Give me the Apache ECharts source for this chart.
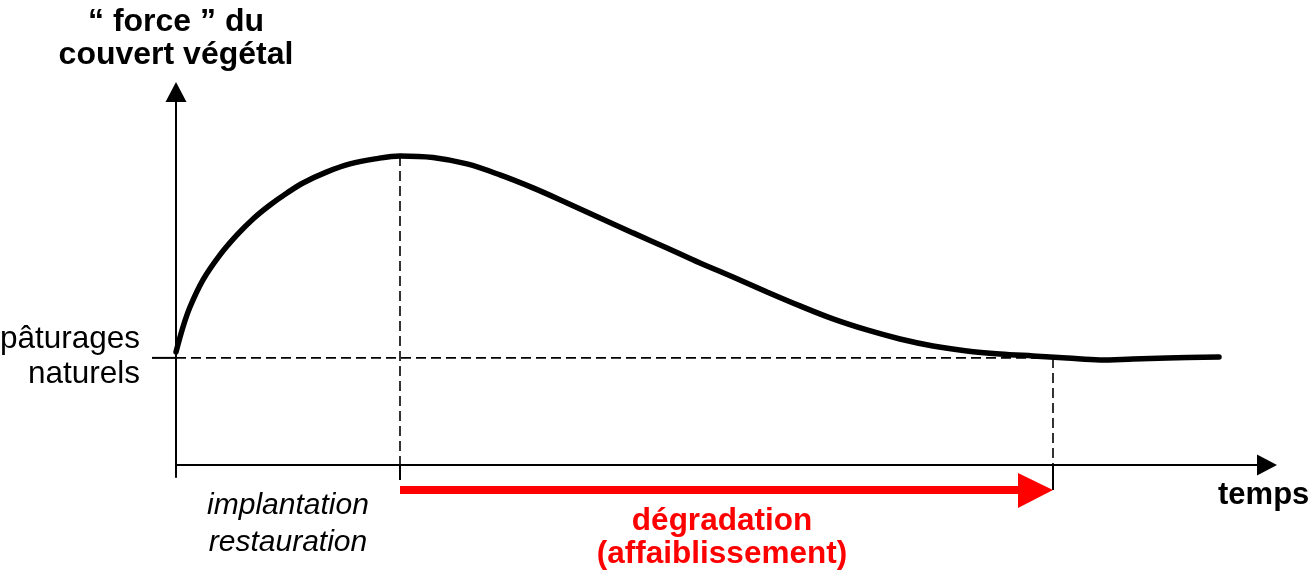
<!DOCTYPE html>
<html>
<head>
<meta charset="utf-8">
<script src="https://cdn.jsdelivr.net/npm/echarts@6/dist/echarts.min.js"></script>
<style>
html,body{margin:0;padding:0;background:#fff;}
#chart{width:1314px;height:578px;}
</style>
</head>
<body>
<div id="chart"></div>
<script>
// ---- data (arbitrary units: time on x, "force" of the plant cover on y) ----
const curveX = [0, 0.7, 1.4, 2.7, 4.4, 6.1, 7.7, 9.4, 11.1, 12.7, 15.1, 17.4, 19.9, 22.4, 25.7, 29.1, 32.4, 35.7, 39.1, 42.4, 45.7, 49.1, 52.4, 55.7, 59.1, 62.4, 65.7, 69.1, 72.4, 75.7, 79.1, 82.4, 85.7, 89.1, 92.4, 95.7, 99.1, 104.3];
const curveY = [9.39, 11.47, 13.13, 15.38, 17.46, 19.12, 20.45, 21.61, 22.61, 23.44, 24.36, 25.02, 25.44, 25.69, 25.56, 25.02, 24.11, 23.03, 21.78, 20.53, 19.29, 18.04, 16.79, 15.63, 14.38, 13.22, 12.14, 11.22, 10.47, 9.89, 9.48, 9.23, 9.06, 8.89, 8.73, 8.81, 8.89, 8.98];
const naturalLevel = 8.9;     // "pâturages naturels"
const peakX = 22.4;           // end of implantation / restauration
const peakY = 25.69;
const degradationEndX = 87.7; // end of the degradation arrow
const xMax = 109.1, yMin = -1, yMax = 31;

const yTitle = '\u201c force \u201d du\ncouvert v\u00e9g\u00e9tal';
const xTitle = 'temps';
const levelLabel = 'p\u00e2turages\nnaturels';
const phase1Label = 'implantation\nrestauration';
const phase2Label = 'd\u00e9gradation\n(affaiblissement)';

const FONT = '"Liberation Sans", Arial, Helvetica, sans-serif';
const curveData = curveX.map((x, i) => [x, curveY[i]]);

const chart = echarts.init(document.getElementById('chart'));
chart.setOption({
  backgroundColor: '#ffffff',
  animation: false,
  grid: { left: 176, right: 47, top: 92, bottom: 101 },
  xAxis: {
    type: 'value', min: 0, max: xMax,
    name: xTitle, nameLocation: 'end', nameGap: -49,
    nameTextStyle: { fontFamily: FONT, fontSize: 31, fontWeight: 'bold', color: '#000',
      align: 'left', verticalAlign: 'top', lineHeight: 31, padding: [15, 0, 0, 0] },
    axisLine: { onZero: true, symbol: ['none', 'triangle'], symbolSize: [21, 20],
      lineStyle: { color: '#000', width: 2 } },
    axisTick: { show: false }, axisLabel: { show: false }, splitLine: { show: false }
  },
  yAxis: {
    type: 'value', min: yMin, max: yMax,
    name: yTitle, nameLocation: 'end', nameGap: 20,
    nameTextStyle: { fontFamily: FONT, fontSize: 32, fontWeight: 'bold', color: '#000',
      align: 'center', lineHeight: 33 },
    axisLine: { onZero: true, symbol: ['none', 'triangle'], symbolSize: [21, 20],
      lineStyle: { color: '#000', width: 2 } },
    axisTick: { show: false }, axisLabel: { show: false }, splitLine: { show: false }
  },
  series: [
    {
      type: 'custom',
      silent: true,
      clip: false,
      z: 1,
      data: [[0]],
      renderItem: function (params, api) {
        const o = api.coord([0, 0]);
        const lv = api.coord([0, naturalLevel]);
        const lvEnd = api.coord([degradationEndX, naturalLevel]);
        const pkTop = api.coord([peakX, peakY]);
        const pkBot = api.coord([peakX, 0]);
        const endBot = api.coord([degradationEndX, 0]);
        const dash = { stroke: '#000', lineWidth: 1.6, lineDash: [10, 5] };
        const solid = { stroke: '#000', lineWidth: 2 };
        const red = '#ff0000';
        const headLen = 35, arrowY = o[1] + 25;
        return {
          type: 'group',
          children: [
            { type: 'line', shape: { x1: lv[0] - 24, y1: lv[1], x2: lv[0], y2: lv[1] }, style: solid },
            { type: 'line', shape: { x1: lv[0], y1: lv[1], x2: lvEnd[0], y2: lvEnd[1] }, style: dash },
            { type: 'line', shape: { x1: pkTop[0], y1: pkTop[1], x2: pkBot[0], y2: pkBot[1] }, style: dash },
            { type: 'line', shape: { x1: pkBot[0], y1: pkBot[1], x2: pkBot[0], y2: pkBot[1] + 15 }, style: solid },
            { type: 'line', shape: { x1: lvEnd[0], y1: lvEnd[1], x2: endBot[0], y2: endBot[1] }, style: dash },
            { type: 'line', shape: { x1: endBot[0], y1: endBot[1], x2: endBot[0], y2: endBot[1] + 25 }, style: solid },
            { type: 'rect', shape: { x: pkBot[0], y: arrowY - 4, width: endBot[0] - headLen - pkBot[0], height: 8 }, style: { fill: red } },
            { type: 'polygon', shape: { points: [[endBot[0] - headLen, arrowY - 17], [endBot[0], arrowY], [endBot[0] - headLen, arrowY + 18]] }, style: { fill: red } },
            { type: 'text', style: { text: levelLabel, x: o[0] - 36, y: lv[1] - 1.5, align: 'right', verticalAlign: 'middle',
                font: '31.5px ' + FONT, lineHeight: 35, fill: '#000' } },
            { type: 'text', style: { text: phase1Label, x: (o[0] + pkBot[0]) / 2, y: o[1] + 59.5, align: 'center', verticalAlign: 'middle',
                font: 'italic 30px ' + FONT, lineHeight: 37, fill: '#000' } },
            { type: 'text', style: { text: phase2Label, x: (pkBot[0] + endBot[0]) / 2 - 4.5, y: o[1] + 72.5, align: 'center', verticalAlign: 'middle',
                font: 'bold 31.5px ' + FONT, lineHeight: 33, fill: red } }
          ]
        };
      }
    },
    {
      type: 'line',
      data: curveData,
      smooth: 0.35,
      showSymbol: false,
      symbol: 'none',
      clip: false,
      z: 3,
      lineStyle: { color: '#000', width: 5.5, cap: 'round' }
    }
  ]
});
</script>
</body>
</html>
